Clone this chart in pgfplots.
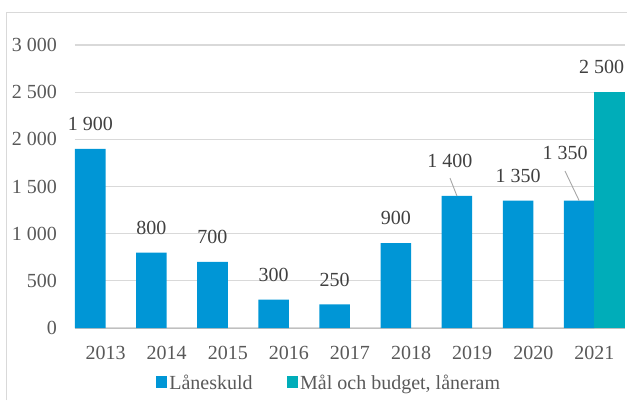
\documentclass[border=0pt]{standalone}
\usepackage{fontspec}
\setmainfont{Liberation Serif}
\usepackage{pgfplots}
\pgfplotsset{compat=1.18}
\usepackage{pgfplotstable}
\definecolor{blueA}{HTML}{0096D6}
\definecolor{tealA}{HTML}{00ADB9}
\definecolor{gridc}{HTML}{D9D9D9}
\definecolor{axisc}{HTML}{BFBFBF}
\definecolor{tickc}{HTML}{595959}
\definecolor{labc}{HTML}{404040}
\definecolor{leadc}{HTML}{A6A6A6}
\pgfplotstableread{
x y dx dy
0 1900 0 18
1 800 0 18
2 700 0 18
3 300 0 18
4 250 0 18
5 900 0 18
6 1400 -7 28
7 1350 0 18
8 1350 -14 41
}\debt
\pgfplotstableread{
x y dx dy
8 2500 -8 18
}\ram
\pgfkeys{/pgf/number format/.cd, 1000 sep={\ }, assume math mode=true}
\begin{document}
\begin{tikzpicture}
\useasboundingbox (-75pt,-72pt) rectangle (552pt,328pt);
\draw[gridc, line width=1pt] (-68pt,-72pt) -- (-68pt,316pt) -- (552pt,316pt);
\begin{axis}[
  at={(0pt,0pt)}, anchor=south west,
  scale only axis, width=550pt, height=283pt,
  xmin=-0.5, xmax=8.5, ymin=0, ymax=3000,
  ytick={0,500,...,3000},
  xtick={0,...,8},
  xticklabels={2013,2014,2015,2016,2017,2018,2019,2020,2021},
  axis x line*=bottom, axis y line*=left,
  x axis line style={draw=axisc, line width=1pt, -},
  y axis line style={draw=none},
  major tick length=0pt,
  tick style={draw=none},
  ymajorgrids, grid style={gridc, line width=1.2pt},
  tick label style={font=\fontsize{20}{24}\selectfont, color=tickc},
  yticklabel style={anchor=east, inner sep=0pt, xshift=-18pt},
  xticklabel style={anchor=north, inner sep=0pt, yshift=-18pt},
  ybar, bar width=30.56pt,
  nodes near coords,
  every node near coord/.append style={font=\fontsize{20}{24}\selectfont, color=labc, anchor=south, inner sep=0pt},
  visualization depends on={\thisrow{dx} \as \dx},
  visualization depends on={\thisrow{dy} \as \dy},
  nodes near coords style={xshift=\dx pt, yshift=\dy pt},
  legend style={at={(0.4618,-0.1943)}, anchor=center, draw=none, fill=none,
    font=\fontsize{20}{24}\selectfont, text=tickc,
    /tikz/every even column/.append style={column sep=32pt},
    inner sep=0pt},
  legend columns=2,
  legend image code/.code={\fill[#1] (0pt,-5pt) rectangle (11.5pt,6.5pt);},
]
\addplot[fill=blueA, draw=none, bar shift=-15.28pt] table[x=x, y=y] {\debt};
\addlegendentry{Låneskuld}
\addplot[fill=tealA, draw=none, bar shift=15.28pt] table[x=x, y=y] {\ram};
\addlegendentry{Mål och budget, låneram}
\draw[leadc, line width=0.9pt] (axis cs:5.636,1590) -- (axis cs:5.75,1400);
\draw[leadc, line width=0.9pt] (axis cs:7.518,1664) -- (axis cs:7.75,1350);
\end{axis}
\end{tikzpicture}
\end{document}
